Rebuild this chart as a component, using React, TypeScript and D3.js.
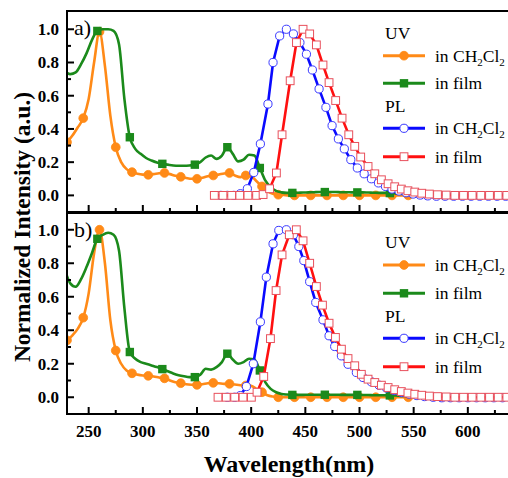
import React from "react";
import * as d3 from "d3";

const FONT = '"Liberation Serif","Times New Roman",Times,serif';

// ---------- axis ticks ----------
const xMajorTicks = [250, 300, 350, 400, 450, 500, 550, 600, 650];
const xTickLabels = [250, 300, 350, 400, 450, 500, 550, 600];
const xMinorTicks = [275, 325, 375, 425, 475, 525, 575, 625];
const yMajorTicks = [0, 0.2, 0.4, 0.6, 0.8, 1.0];
const yMinorTicks = [0.1, 0.3, 0.5, 0.7, 0.9];
const yTickLabels = ["0.0", "0.2", "0.4", "0.6", "0.8", "1.0"];

// ---------- UV absorption (wavelength grids) ----------
const uvGridOrange = [
  230, 235, 240, 245, 250, 255, 260, 265, 270, 275, 280, 285, 290, 295, 300, 305, 310, 315, 320, 325,
  330, 335, 340, 345, 350, 355, 360, 365, 370, 375, 380, 385, 390, 395, 400, 405, 410, 415, 420, 425,
  430, 435, 440, 445, 450, 455, 460, 465, 470, 475, 480, 485, 490, 495, 500, 505, 510, 515, 520, 525,
  530, 535, 540, 545, 550, 555, 560,
];
const uvGridGreen = [
  228, 233, 238, 243, 248, 253, 258, 263, 268, 273, 278, 283, 288, 293, 298, 303, 308, 313, 318, 323,
  328, 333, 338, 343, 348, 353, 358, 363, 368, 373, 378, 383, 388, 393, 398, 403, 408, 413, 418, 423,
  428, 433, 438, 443, 448, 453, 458, 463, 468, 473, 478, 483, 488, 493, 498, 503, 508, 513, 518, 523,
  528, 533, 538, 543, 548, 553, 558, 563,
];

// panel a) UV in CH2Cl2
const uvSolA = [
  0.32, 0.36, 0.41, 0.465, 0.58, 0.8, 0.985, 0.78, 0.48, 0.29, 0.2, 0.158, 0.14, 0.13, 0.125, 0.124, 0.128, 0.133, 0.135, 0.128,
  0.118, 0.112, 0.105, 0.1, 0.1, 0.106, 0.115, 0.12, 0.125, 0.132, 0.135, 0.12, 0.11, 0.12, 0.115, 0.085, 0.054, 0.025, 0.01, 0.004,
  0.002, 0, 0, 0, 0, 0, 0, 0, 0, 0, 0, 0, 0, 0, 0, 0, 0, 0, 0, 0,
  0, 0, 0, 0, 0, 0, 0,
];
// panel a) UV in film
const uvFilmA = [
  0.75, 0.73, 0.74, 0.79, 0.855, 0.935, 0.99, 1.0, 1.0, 0.99, 0.91, 0.58, 0.35, 0.28, 0.25, 0.225, 0.21, 0.198, 0.19, 0.185,
  0.18, 0.178, 0.178, 0.18, 0.185, 0.2, 0.228, 0.24, 0.22, 0.24, 0.29, 0.25, 0.205, 0.215, 0.245, 0.24, 0.165, 0.09, 0.05, 0.027,
  0.018, 0.015, 0.015, 0.016, 0.017, 0.018, 0.019, 0.02, 0.02, 0.02, 0.02, 0.019, 0.019, 0.018, 0.018, 0.018, 0.017, 0.016, 0.015, 0.015,
  0.014, 0.012, 0.01, 0.008, 0.005, 0.002, 0, 0,
];
// panel b) UV in CH2Cl2
const uvSolB = [
  0.34, 0.37, 0.41, 0.475, 0.62, 0.86, 1.0, 0.8, 0.46, 0.279, 0.2, 0.16, 0.143, 0.135, 0.13, 0.128, 0.124, 0.118, 0.113, 0.1,
  0.09, 0.084, 0.078, 0.075, 0.074, 0.078, 0.084, 0.086, 0.084, 0.08, 0.08, 0.076, 0.072, 0.07, 0.068, 0.05, 0.03, 0.012, 0.004, 0,
  0, 0, 0, 0, 0, 0, 0, 0, 0, 0, 0, 0, 0, 0, 0, 0, 0, 0, 0, 0,
  0, 0, 0, 0, 0, 0, 0,
];
// panel b) UV in film
const uvFilmB = [
  0.76, 0.68, 0.66, 0.705, 0.777, 0.86, 0.946, 0.97, 0.982, 0.97, 0.876, 0.53, 0.27, 0.23, 0.21, 0.2, 0.19, 0.18, 0.168, 0.155,
  0.142, 0.132, 0.125, 0.12, 0.12, 0.135, 0.17, 0.165, 0.18, 0.21, 0.26, 0.225, 0.2, 0.21, 0.23, 0.225, 0.16, 0.09, 0.05, 0.03,
  0.02, 0.016, 0.014, 0.014, 0.014, 0.015, 0.015, 0.015, 0.015, 0.015, 0.015, 0.014, 0.014, 0.014, 0.014, 0.013, 0.013, 0.012, 0.012, 0.012,
  0.011, 0.01, 0.008, 0.006, 0.004, 0.002, 0, 0,
];

// ---------- PL (wavelengths + values, every point has a marker) ----------
const plSolNmA = [
  372, 378, 384, 390, 396.5, 402.4, 408.5, 415.5, 420.2, 426.3, 432.5, 439, 445, 451, 456.5, 462.7, 469, 474.7, 480.5, 486,
  492, 498, 504.3, 511, 517.5, 524, 530, 536.5, 543, 549.5, 556, 563, 571, 579, 587, 595, 603, 611, 619, 627, 635, 643,
];
const plSolA = [
  0, 0, 0, 0.01, 0.04, 0.138, 0.31, 0.55, 0.8, 0.96, 1.0, 0.972, 0.92, 0.85, 0.755, 0.641, 0.53, 0.42, 0.34, 0.28,
  0.215, 0.165, 0.13, 0.1, 0.075, 0.054, 0.038, 0.026, 0.016, 0.008, 0.002, -0.003, -0.005, -0.005, -0.005, -0.005, -0.005, -0.005, -0.005, -0.005, -0.005, -0.005,
];
const plFilmNmA = [
  366, 374, 382, 389.5, 397, 405, 411, 417, 423.3, 428.5, 436, 441.8, 447.9, 454, 460.2, 466.3, 471.9, 478, 483.9, 490.1,
  495.6, 501.1, 507.9, 514.1, 520.2, 526.4, 532.5, 538.6, 544.7, 551, 557.5, 564.5, 572, 580, 588, 596, 604, 612, 620, 628, 636, 644,
];
const plFilmA = [
  0, 0, 0, 0, 0, 0, 0.005, 0.04, 0.135, 0.365, 0.69, 0.92, 1.0, 0.972, 0.906, 0.785, 0.679, 0.571, 0.465, 0.365,
  0.295, 0.231, 0.174, 0.13, 0.094, 0.07, 0.052, 0.038, 0.028, 0.02, 0.013, 0.008, 0.004, 0.002, 0, 0, 0, 0, 0, 0, 0, 0,
];
const plSolNmB = [
  378, 384.8, 390, 395.6, 402, 408.5, 414, 420.2, 425.5, 432.5, 439, 444, 448.6, 454, 459.6, 466.3, 471.9, 477.1, 483.3, 489.4,
  497.1, 503.3, 511, 518.1, 525, 532, 539, 546, 553, 560, 568, 576, 584, 592, 600, 608, 616, 624, 632, 640,
];
const plSolB = [
  0, 0, 0.01, 0.064, 0.2, 0.45, 0.717, 0.916, 0.996, 1.0, 0.97, 0.9, 0.816, 0.69, 0.566, 0.462, 0.367, 0.303, 0.247, 0.197,
  0.148, 0.118, 0.092, 0.072, 0.055, 0.04, 0.028, 0.018, 0.01, 0.004, 0, -0.003, -0.003, -0.003, -0.003, -0.003, -0.003, -0.003, -0.003, -0.003,
];
const plFilmNmB = [
  369.4, 377, 384.8, 392.5, 400.2, 405.4, 411.6, 417.8, 423, 428.5, 435.2, 441.7, 447.9, 454, 460.2, 465.8, 471.9, 477.8, 483.3, 489.4,
  495.6, 501.7, 507.9, 514.1, 520.2, 526.4, 532.5, 538.6, 544.7, 551, 557.5, 564.5, 572, 580, 588, 596, 604, 612, 620, 628, 636, 644,
];
const plFilmB = [
  0, 0, 0, 0, 0, 0.03, 0.124, 0.35, 0.637, 0.85, 0.97, 1.0, 0.934, 0.8, 0.661, 0.55, 0.442, 0.357, 0.287, 0.231,
  0.188, 0.137, 0.108, 0.088, 0.072, 0.058, 0.045, 0.034, 0.025, 0.018, 0.012, 0.007, 0.004, 0.002, 0, 0, 0, 0, 0, 0, 0, 0,
];

// ---------- styling ----------
const C_ORANGE = "#ff8a17";
const C_GREEN = "#1b8a1b";
const C_BLUE = "#0a0aff";
const C_RED = "#ff1010";
const C_BLUE_MK = "#3a3aff";
const C_RED_MK = "#e8505c";

const X_LEFT = 67;
const X_RIGHT = 522;

type Pt = [number, number];

function zip(xs: number[], ys: number[]): Pt[] {
  return xs.map((x, i) => [x, ys[i]] as Pt);
}

interface PanelProps {
  id: string;
  top: number;
  bottom: number;
  yDomain: [number, number];
  label: string;
  orange: number[];
  green: number[];
  blueNm: number[];
  blue: number[];
  redNm: number[];
  red: number[];
  legendRows: number[]; // UV label baseline, row1, row2, PL baseline, row3, row4
  showXLabels: boolean;
}

function OrangeMarker({ cx, cy }: { cx: number; cy: number }) {
  return <circle cx={cx} cy={cy} r={4.4} fill={C_ORANGE} stroke={C_ORANGE} strokeWidth={0.8} />;
}
function GreenMarker({ cx, cy }: { cx: number; cy: number }) {
  const s = 8.4;
  return <rect x={cx - s / 2} y={cy - s / 2} width={s} height={s} fill={C_GREEN} />;
}
function BlueMarker({ cx, cy }: { cx: number; cy: number }) {
  return <circle cx={cx} cy={cy} r={4.1} fill="#fff" stroke={C_BLUE_MK} strokeWidth={1} />;
}
function RedMarker({ cx, cy }: { cx: number; cy: number }) {
  const s = 7.8;
  return <rect x={cx - s / 2} y={cy - s / 2} width={s} height={s} fill="#fff" stroke={C_RED_MK} strokeWidth={1} />;
}

function Panel(p: PanelProps) {
  const x = d3.scaleLinear().domain([230, 650]).range([X_LEFT, X_RIGHT]);
  const y = d3.scaleLinear().domain(p.yDomain).range([p.bottom, p.top]);

  const smooth = d3
    .line<Pt>()
    .x((d) => x(d[0]))
    .y((d) => y(d[1]))
    .curve(d3.curveMonotoneX);
  const straight = d3
    .line<Pt>()
    .x((d) => x(d[0]))
    .y((d) => y(d[1]));

  const orangePts = zip(uvGridOrange, p.orange);
  const greenPts = zip(uvGridGreen, p.green);
  const bluePts = zip(p.blueNm, p.blue);
  const redPts = zip(p.redNm, p.red);

  const orangeMk = orangePts.filter((_, i) => i % 3 === 0 && i <= 63);
  const greenMk = greenPts.filter((_, i) => i >= 6 && (i - 6) % 6 === 0 && i <= 60);

  const clipId = `clip-${p.id}`;
  const lw = 2.6;

  const [lUV, r1, r2, lPL, r3, r4] = p.legendRows;
  const lx0 = 383;
  const lx1 = 425;
  const lxm = (lx0 + lx1) / 2;
  const tx = 435;
  const legFont = 17.5;

  const solText = (yy: number) => (
    <text x={tx} y={yy + 6} fontFamily={FONT} fontSize={legFont} fill="#000">
      in CH
      <tspan fontSize={11} dy={4}>2</tspan>
      <tspan dy={-4}>Cl</tspan>
      <tspan fontSize={11} dy={4}>2</tspan>
    </text>
  );
  const filmText = (yy: number) => (
    <text x={tx} y={yy + 6} fontFamily={FONT} fontSize={legFont} fill="#000">
      in film
    </text>
  );

  return (
    <g>
      <defs>
        <clipPath id={clipId}>
          <rect x={X_LEFT} y={p.top} width={X_RIGHT - X_LEFT} height={p.bottom - p.top} />
        </clipPath>
      </defs>

      <g clipPath={`url(#${clipId})`}>
        <path d={smooth(orangePts) || ""} fill="none" stroke={C_ORANGE} strokeWidth={lw} />
        {orangeMk.map((d, i) => (
          <OrangeMarker key={`o${i}`} cx={x(d[0])} cy={y(d[1])} />
        ))}
        <path d={smooth(greenPts) || ""} fill="none" stroke={C_GREEN} strokeWidth={lw} />
        {greenMk.map((d, i) => (
          <GreenMarker key={`g${i}`} cx={x(d[0])} cy={y(d[1])} />
        ))}
        <path d={straight(bluePts) || ""} fill="none" stroke={C_BLUE} strokeWidth={lw} />
        {bluePts.map((d, i) => (
          <BlueMarker key={`b${i}`} cx={x(d[0])} cy={y(d[1])} />
        ))}
        <path d={straight(redPts) || ""} fill="none" stroke={C_RED} strokeWidth={lw} />
        {redPts.map((d, i) => (
          <RedMarker key={`r${i}`} cx={x(d[0])} cy={y(d[1])} />
        ))}
      </g>

      {/* frame */}
      <rect x={X_LEFT} y={p.top} width={X_RIGHT - X_LEFT} height={p.bottom - p.top} fill="none" stroke="#000" strokeWidth={2} />

      {/* x ticks (inward from bottom) */}
      {xMajorTicks.map((t) => (
        <line key={`xM${t}`} x1={x(t)} x2={x(t)} y1={p.bottom} y2={p.bottom - 7} stroke="#000" strokeWidth={2} />
      ))}
      {xMinorTicks.map((t) => (
        <line key={`xm${t}`} x1={x(t)} x2={x(t)} y1={p.bottom} y2={p.bottom - 4} stroke="#000" strokeWidth={2} />
      ))}
      {/* y ticks (inward from left) */}
      {yMajorTicks.map((t) => (
        <line key={`yM${t}`} x1={X_LEFT} x2={X_LEFT + 7} y1={y(t)} y2={y(t)} stroke="#000" strokeWidth={2} />
      ))}
      {yMinorTicks.map((t) => (
        <line key={`ym${t}`} x1={X_LEFT} x2={X_LEFT + 4} y1={y(t)} y2={y(t)} stroke="#000" strokeWidth={2} />
      ))}
      {yMajorTicks.map((t, i) => (
        <text
          key={`yl${t}`}
          x={59}
          y={y(t) + 6}
          textAnchor="end"
          fontFamily={FONT}
          fontWeight="bold"
          fontSize={17}
          fill="#000"
        >
          {yTickLabels[i]}
        </text>
      ))}
      {p.showXLabels &&
        xTickLabels.map((t) => (
          <text
            key={`xl${t}`}
            x={x(t)}
            y={p.bottom + 23}
            textAnchor="middle"
            fontFamily={FONT}
            fontWeight="bold"
            fontSize={17}
            fill="#000"
          >
            {t}
          </text>
        ))}

      {/* panel label */}
      <text x={74} y={p.top + 24} fontFamily={FONT} fontSize={22} fill="#000">
        {p.label}
      </text>

      {/* legend */}
      <text x={tx - 50} y={lUV} fontFamily={FONT} fontSize={legFont} fill="#000">
        UV
      </text>
      <line x1={lx0} x2={lx1} y1={r1} y2={r1} stroke={C_ORANGE} strokeWidth={3} />
      <OrangeMarker cx={lxm} cy={r1} />
      {solText(r1)}
      <line x1={lx0} x2={lx1} y1={r2} y2={r2} stroke={C_GREEN} strokeWidth={3} />
      <GreenMarker cx={lxm} cy={r2} />
      {filmText(r2)}
      <text x={tx - 50} y={lPL} fontFamily={FONT} fontSize={legFont} fill="#000">
        PL
      </text>
      <line x1={lx0} x2={lx1} y1={r3} y2={r3} stroke={C_BLUE} strokeWidth={3} />
      <BlueMarker cx={lxm} cy={r3} />
      {solText(r3)}
      <line x1={lx0} x2={lx1} y1={r4} y2={r4} stroke={C_RED} strokeWidth={3} />
      <RedMarker cx={lxm} cy={r4} />
      {filmText(r4)}
    </g>
  );
}

export default function App() {
  return (
    <svg
      width={508}
      height={478}
      style={{ position: "absolute", left: 0, top: 0, background: "#fff" }}
      xmlns="http://www.w3.org/2000/svg"
    >
      <rect x={0} y={0} width={508} height={478} fill="#fff" />
      <Panel
        id="a"
        top={11}
        bottom={212}
        yDomain={[-0.1, 1.11]}
        label="a)"
        orange={uvSolA}
        green={uvFilmA}
        blueNm={plSolNmA}
        blue={plSolA}
        redNm={plFilmNmA}
        red={plFilmA}
        legendRows={[38.5, 55.7, 83.3, 111.7, 128.3, 156.7]}
        showXLabels={false}
      />
      <Panel
        id="b"
        top={213}
        bottom={414}
        yDomain={[-0.1, 1.1]}
        label="b)"
        orange={uvSolB}
        green={uvFilmB}
        blueNm={plSolNmB}
        blue={plSolB}
        redNm={plFilmNmB}
        red={plFilmB}
        legendRows={[248.3, 265, 293.3, 321.7, 338.3, 366.7]}
        showXLabels={true}
      />
      <text
        transform={`translate(22,227) rotate(-90)`}
        textAnchor="middle"
        dominantBaseline="central"
        fontFamily={FONT}
        fontWeight="bold"
        fontSize={23.5}
        fill="#000"
      >
        Normalized Intensity (a.u.)
      </text>
      <text x={289} y={472} textAnchor="middle" fontFamily={FONT} fontWeight="bold" fontSize={24} fill="#000">
        Wavelength(nm)
      </text>
    </svg>
  );
}
